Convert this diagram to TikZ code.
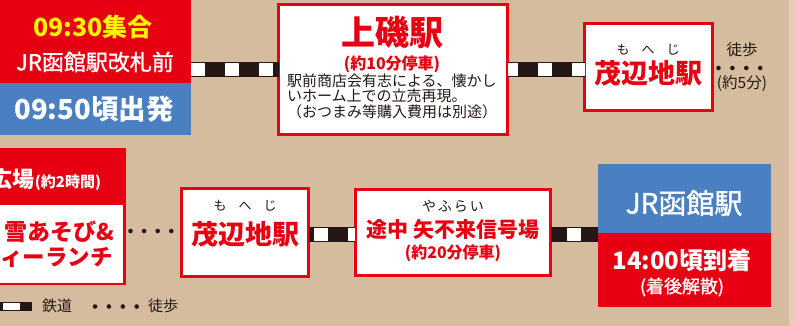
\documentclass[tikz,border=0pt]{standalone}
\usepackage{fontspec}
\setmainfont{Noto Sans CJK JP}
\newfontfamily\jp{Noto Sans CJK JP}
\newfontfamily\jpm[FakeBold=1.3]{Noto Sans CJK JP}
\newcommand\myfs[1]{\fontsize{#1}{#1}\selectfont}
\definecolor{jred}{HTML}{E60012}
\definecolor{jblue}{HTML}{4A80C2}
\definecolor{jyel}{HTML}{FFF100}
\definecolor{beige}{HTML}{D5BC9F}
\definecolor{ink}{HTML}{231815}
\definecolor{edge}{HTML}{EBCBB8}
\tikzset{
  fillbox/.style={rectangle, inner sep=0pt, outer sep=0pt, draw=none},
  stbox/.style={rectangle, inner sep=0pt, outer sep=0pt, fill=white, draw=jred, line width=2.6pt},
  txt/.style={inner sep=0pt, outer sep=0pt, font=\jp},
  rail/.style={line width=15pt, draw=ink, postaction={draw=white, line width=12.5pt, dash pattern=on 14pt off 20pt}},
  walk/.style={line width=4.6pt, draw=ink, line cap=round, dash pattern=on 0pt off 13.9pt},
}
\begin{document}
\begin{tikzpicture}[x=1pt,y=-1pt]
\useasboundingbox (0,0) rectangle (795,326);
\fill[beige] (0,0) rectangle (795,326);
\fill[edge] (789,0) rectangle (795,326);
\clip (0,0) rectangle (795,326);

% top-left block
\node[fillbox, fill=jred, minimum width=191pt, minimum height=83pt] (L1red) at (95.5,41.5) {};
\node[fillbox, fill=jblue, minimum width=191pt, minimum height=52pt] (L1blue) at (95.5,109) {};
\node[txt, text=jyel] (t1) at (93,27) {\myfs{25}\bfseries 09:30集合};
\node[txt, text=white, font=\jpm] (t2) at (95,62) {\myfs{22}JR函館駅改札前};
\node[txt, text=white] (t3) at (94,109) {\myfs{27.5}\bfseries 09:50頃出発};

% Kamiiso
\node[stbox, minimum width=229pt, minimum height=130pt] (Kami) at (393,69.5) {};
\node[txt, text=jred] (k1) at (392,32) {\myfs{34}\bfseries 上磯駅};
\node[txt, text=jred] (k2) at (392,64) {\myfs{16}\bfseries (約10分停車)};
\node[txt, text=ink, anchor=north west, align=left, font=\jp\myfs{15}] (k3) at (287,73.5) {駅前商店会有志による、懐かし\\[0.5pt]いホーム上での立売再現。\\[0.5pt]（おつまみ等購入費用は別途）};

% Mohechi top
\node[stbox, minimum width=128pt, minimum height=87pt] (M1) at (648.5,67) {};
\node[txt, text=ink] (m1r) at (648,50) {\myfs{13}も\hspace{12pt}へ\hspace{12pt}じ};
\node[txt, text=jred] (m1) at (648,73) {\myfs{27}\bfseries 茂辺地駅};
\node[txt, text=ink] (w1) at (742,50) {\myfs{15.5}徒歩};
\node[txt, text=ink] (w1b) at (742,84) {\myfs{15.5}(約5分)};
\coordinate (w1end) at (764,68);

% bottom-left block
\node[stbox, minimum width=137pt, minimum height=135pt] (BL) at (56,216.5) {};
\node[fillbox, fill=jred, minimum width=137pt, minimum height=57pt] (BLh) at (56,176.5) {};
\node[txt, text=white, anchor=east] (b1) at (101,180) {\bfseries\myfs{22}広場\myfs{15}(約2時間)};
\node[txt, text=jred, anchor=east] (b2) at (114,232) {\myfs{23}\bfseries 雪あそび\&};
\node[txt, text=jred, anchor=east] (b3) at (113,257) {\myfs{22.5}\bfseries ィーランチ};

% Mohechi bottom
\node[stbox, minimum width=127.5pt, minimum height=88.5pt] (M2) at (245,232.5) {};
\node[txt, text=ink] (m2r) at (245,206) {\myfs{13}も\hspace{12pt}へ\hspace{12pt}じ};
\node[txt, text=jred] (m2) at (245,234) {\myfs{27}\bfseries 茂辺地駅};

% Yafurai
\node[stbox, minimum width=195.5pt, minimum height=86.5pt] (Y) at (453,232.5) {};
\node[txt, text=ink] (y0) at (453,206) {\myfs{14}や\hspace{2pt}ふ\hspace{2pt}ら\hspace{2pt}い};
\node[txt, text=jred] (y1) at (453,229) {\myfs{21}\bfseries 途中\hspace{6pt}矢不来信号場};
\node[txt, text=jred] (y2) at (453,253) {\myfs{16}\bfseries (約20分停車)};

% JR Hakodate
\node[fillbox, fill=jblue, minimum width=173pt, minimum height=69pt] (HB) at (684.5,198.5) {};
\node[fillbox, fill=jred, minimum width=173pt, minimum height=74pt] (HR) at (684.5,270) {};
\node[txt, text=white, font=\jpm] (h1) at (684,203) {\myfs{28}JR函館駅};
\node[txt, text=white] (h2) at (682,260) {\myfs{24}\bfseries 14:00頃到着};
\node[txt, text=white, font=\jpm] (h3) at (682,287) {\myfs{18}(着後解散)};

% rails
\draw[rail] (L1red.east |- Kami.west) -- (Kami.west);
\draw[rail, dash phase=4pt] (Kami.east |- 0,69.5) -- (M1.west |- 0,69.5);
\draw[rail, dash phase=29pt] ([yshift=-2pt]M2.east) -- ([yshift=-2pt]Y.west);
\draw[rail, dash phase=18pt] ([yshift=-2pt]Y.east) -- ([yshift=-2pt]Y.east -| HR.west);

% walks
\draw[walk] ([xshift=6pt]M1.east |- 0,68) -- (w1end);
\draw[walk, dash pattern=on 0pt off 13.6pt] ([xshift=6pt]BL.east |- 0,231) -- ([xshift=-8pt]M2.west |- 0,231);

% legend
\coordinate (lg1) at (0,306.5);
\coordinate (lg2) at (32,306.5);
\draw[line width=9pt, draw=ink] (lg1) -- (lg2);
\draw[line width=7pt, draw=white] ([xshift=3pt]lg1) -- ([xshift=20pt]lg1);
\node[txt, text=ink] (lgr) at (57,306) {\myfs{15}鉄道};
\coordinate (lw1) at (95,306.5);
\coordinate (lw2) at (137.5,306.5);
\draw[walk] (lw1) -- (lw2);
\node[txt, text=ink] (lgw) at (163,306) {\myfs{15}徒歩};
\end{tikzpicture}
\end{document}
